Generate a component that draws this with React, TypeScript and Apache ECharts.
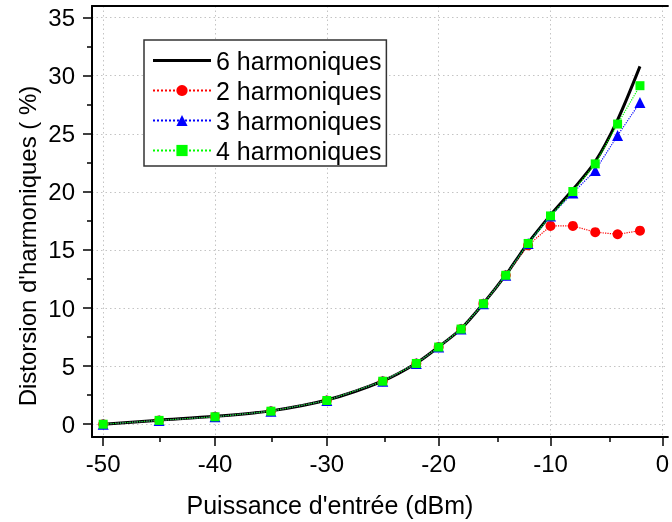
import React, { useEffect, useRef } from "react";
import * as echarts from "echarts";

const xValues = [-50, -45, -40, -35, -30, -25, -22, -20, -18, -16, -14, -12, -10, -8, -6, -4, -2];
const h6 = [0, 0.35, 0.68, 1.15, 2.08, 3.72, 5.25, 6.66, 8.22, 10.4, 12.85, 15.6, 18.0, 20.2, 22.6, 26.2, 30.8];
const h2 = [0, 0.33, 0.64, 1.12, 2.04, 3.7, 5.23, 6.64, 8.19, 10.37, 12.82, 15.4, 17.07, 17.07, 16.53, 16.35, 16.66];
const h3 = [0, 0.33, 0.64, 1.12, 2.04, 3.7, 5.23, 6.64, 8.19, 10.37, 12.82, 15.56, 17.93, 19.9, 21.84, 24.85, 27.7];
const h4 = [0, 0.33, 0.64, 1.12, 2.04, 3.7, 5.23, 6.64, 8.19, 10.37, 12.82, 15.56, 17.93, 20.03, 22.41, 25.84, 29.14];

const xMajor = [-50, -40, -30, -20, -10, 0];
const xMinor = [-45, -35, -25, -15, -5];
const yMajor = [0, 5, 10, 15, 20, 25, 30, 35];
const yMinor = [2.5, 7.5, 12.5, 17.5, 22.5, 27.5, 32.5];

const names = ["6 harmoniques", "2 harmoniques", "3 harmoniques", "4 harmoniques"];
const xTitle = "Puissance d'entrée (dBm)";
const yTitle = "Distorsion d'harmoniques ( %)";

const FONT = "'Liberation Sans', Arial, sans-serif";

export default function App() {
  const ref = useRef<HTMLDivElement>(null);
  useEffect(() => {
    if (!ref.current) return;
    const chart = echarts.init(ref.current, undefined, { renderer: "svg" });
    const pair = (ys: number[]) => xValues.map((x, i) => [x, ys[i]]);
    const X_MIN = -51, X_MAX = 0.5, Y_MIN = -1.1, Y_MAX = 36;
    const g = { left: 92, right: 0, top: 6, bottom: 85 };
    const gridLine = { show: true, lineStyle: { color: "#c4c4c4", width: 1, type: [1.5, 3] } };
    const hidden = { show: false };
    chart.setOption({
      animation: false,
      textStyle: { fontFamily: FONT },
      grid: [g, { ...g }],
      graphic: [
        {
          type: "text",
          x: 27,
          y: 246,
          rotation: Math.PI / 2,
          style: {
            text: yTitle,
            fill: "#000",
            font: `24px ${FONT}`,
            textAlign: "center",
            textVerticalAlign: "middle",
          },
        },
      ],
      legend: {
        orient: "vertical",
        left: 144,
        top: 40,
        data: [{ name: names[0], icon: "path://M0,0H58V3H0Z" }, names[1], names[2], names[3]],
        itemWidth: 58,
        itemHeight: 14,
        itemGap: 5,
        padding: [8, 5, 3, 8],
        borderColor: "#333",
        borderWidth: 1.5,
        backgroundColor: "#fff",
        textStyle: { fontSize: 25, color: "#000", fontFamily: FONT, lineHeight: 25 },
      },
      xAxis: [
        {
          type: "value",
          gridIndex: 0,
          min: X_MIN,
          max: X_MAX,
          position: "bottom",
          name: xTitle,
          nameLocation: "middle",
          nameGap: 55,
          nameTextStyle: { fontSize: 25, color: "#000", fontFamily: FONT, padding: [0, 100, 0, 0] },
          axisLine: { show: true, onZero: false, lineStyle: { color: "#000", width: 2 } },
          axisTick: { show: true, length: 9, lineStyle: { color: "#000", width: 1.5 }, customValues: xMajor },
          axisLabel: { fontSize: 24, color: "#000", margin: 14, customValues: xMajor, hideOverlap: false, fontFamily: FONT },
          splitLine: gridLine,
        },
        {
          type: "value",
          gridIndex: 0,
          min: X_MIN,
          max: X_MAX,
          position: "top",
          axisLine: { show: true, onZero: false, lineStyle: { color: "#000", width: 2 } },
          axisTick: hidden,
          axisLabel: hidden,
          splitLine: hidden,
        },
        {
          type: "value",
          gridIndex: 1,
          min: X_MIN,
          max: X_MAX,
          position: "bottom",
          axisLine: { show: false, onZero: false },
          axisTick: { show: true, length: 5, lineStyle: { color: "#000", width: 1.5 }, customValues: xMinor },
          axisLabel: hidden,
          splitLine: hidden,
        },
      ],
      yAxis: [
        {
          type: "value",
          gridIndex: 0,
          min: Y_MIN,
          max: Y_MAX,
          position: "left",
          axisLine: { show: true, onZero: false, lineStyle: { color: "#000", width: 2 } },
          axisTick: { show: true, length: 9, lineStyle: { color: "#000", width: 1.5 }, customValues: yMajor },
          axisLabel: { fontSize: 24, color: "#000", margin: 17, customValues: yMajor, hideOverlap: false, fontFamily: FONT },
          splitLine: gridLine,
        },
        {
          type: "value",
          gridIndex: 1,
          min: Y_MIN,
          max: Y_MAX,
          position: "left",
          axisLine: { show: false, onZero: false },
          axisTick: { show: true, length: 5, lineStyle: { color: "#000", width: 1.5 }, customValues: yMinor },
          axisLabel: hidden,
          splitLine: hidden,
        },
      ],
      series: [
        {
          name: names[0],
          type: "line",
          data: pair(h6),
          smooth: 0.3,
          showSymbol: false,
          symbol: "none",
          lineStyle: { color: "#000", width: 3 },
          itemStyle: { color: "#000" },
          z: 2,
        },
        {
          name: names[1],
          type: "line",
          data: pair(h2),
          symbol: "circle",
          symbolSize: 10,
          lineStyle: { color: "#ff0000", width: 1.2, type: "dotted" },
          itemStyle: { color: "#ff0000" },
          z: 3,
        },
        {
          name: names[2],
          type: "line",
          data: pair(h3),
          symbol: "triangle",
          symbolSize: 11,
          lineStyle: { color: "#0000ff", width: 1.2, type: "dotted" },
          itemStyle: { color: "#0000ff" },
          z: 4,
        },
        {
          name: names[3],
          type: "line",
          data: pair(h4),
          symbol: "rect",
          symbolSize: 9,
          lineStyle: { color: "#00ff00", width: 1.2, type: "dotted" },
          itemStyle: { color: "#00ff00" },
          z: 5,
        },
      ],
    });
    return () => chart.dispose();
  }, []);
  return <div ref={ref} style={{ position: "fixed", left: 0, top: 0, width: 672, height: 522 }} />;
}
